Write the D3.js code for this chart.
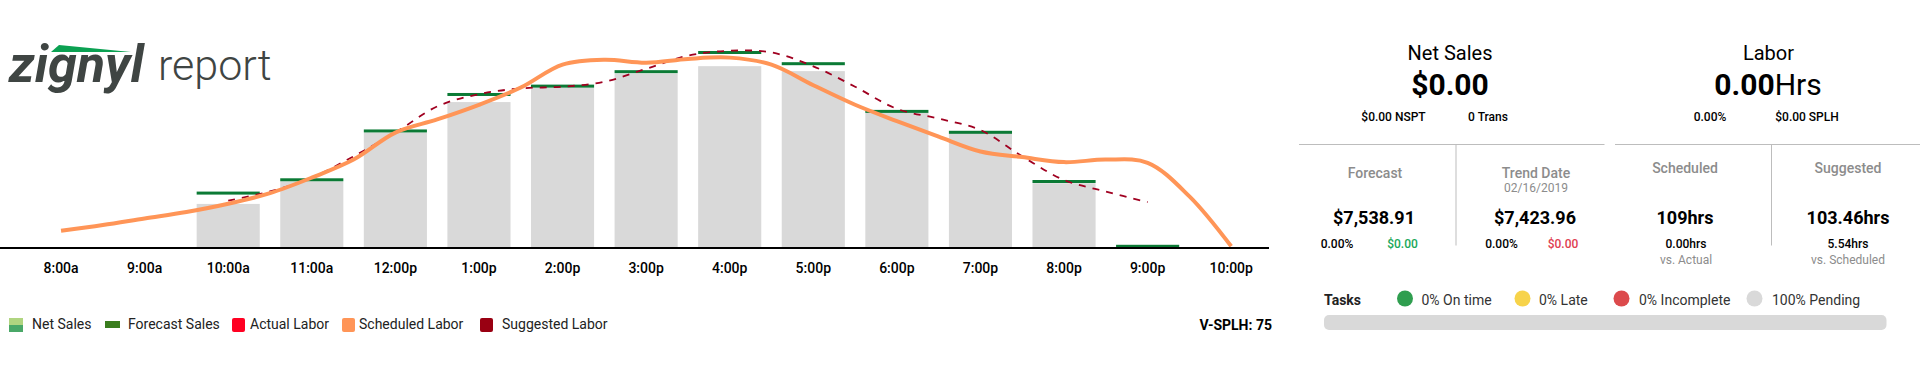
<!DOCTYPE html>
<html>
<head>
<meta charset="utf-8">
<script src="https://d3js.org/d3.v7.min.js"></script>
<style>
  html, body { margin: 0; background: #fff; overflow: hidden; }
  text { font-family: Roboto, sans-serif; }
  .tick text { font-size: 14px; font-weight: 500; fill: #000; }
</style>
</head>
<body>
<svg id="chart" width="1920" height="367"></svg>
<script>
const hourLabels = ['8:00a', '9:00a', '10:00a', '11:00a', '12:00p', '1:00p', '2:00p', '3:00p', '4:00p', '5:00p', '6:00p', '7:00p', '8:00p', '9:00p', '10:00p']

// dollars per hour
const netSalesBars = [null, null, 232, 350, 607, 768, 845, 918, 957, 931, 712, 605, 341, null, null]
const forecastSales = [null, null, 289, 359, 616, 808, 852, 928, 1029, 970, 719, 609, 350, 9, null]

// labor hours, sampled every half hour starting at 8a / 10a
const scheduledLabor = [1.23, 1.64, 2.11, 2.57, 3.16, 3.92, 5.03, 6.32, 8.25, 9.19, 10.24, 11.47, 13.11, 13.46, 13.25, 13.52, 13.61, 13.11, 11.64, 10.24, 9.07, 7.96, 6.9, 6.5, 6.14, 6.32, 6.09, 3.69, 0.12]
const suggestedLabor = [3.39, 4.04, 5.03, 6.55, 8.25, 10.12, 11, 11.41, 11.53, 11.88, 12.81, 13.75, 14.1, 13.98, 12.99, 11.53, 9.95, 9.25, 8.43, 6.55, 4.86, 4.04, 3.28]

const legendItems = ['Net Sales', 'Forecast Sales', 'Actual Labor', 'Scheduled Labor', 'Suggested Labor']
const taskLabels = ['0% On time', '0% Late', '0% Incomplete', '100% Pending']

const $svg = d3.select('#chart')

const baseline = 248
const x = d3.scaleBand()
  .domain(hourLabels)
  .range([19.25, 1273])
  .paddingInner(0.245)
  .paddingOuter(0.1225)
const y = d3.scaleLinear().domain([0, 1200]).range([baseline, 20])
const yLabor = d3.scaleLinear().domain([0, 16.3]).range([baseline, 20])
const xHour = d3.scaleLinear()
  .domain([8, 22])
  .range([x('8:00a') + x.bandwidth() / 2, x('10:00p') + x.bandwidth() / 2])

const rows = hourLabels.map((h, i) => ({ h, net: netSalesBars[i], forecast: forecastSales[i] }))

// bars
$svg.append('g').selectAll('rect')
  .data(rows.filter(d => d.net !== null))
  .enter().append('rect')
  .attr('x', d => x(d.h))
  .attr('y', d => y(d.net))
  .attr('width', x.bandwidth())
  .attr('height', d => baseline - y(d.net))
  .attr('fill', '#d9d9d9')

$svg.append('g').selectAll('rect')
  .data(rows.filter(d => d.forecast !== null))
  .enter().append('rect')
  .attr('x', d => x(d.h))
  .attr('y', d => y(d.forecast) - 1.5)
  .attr('width', x.bandwidth())
  .attr('height', 3)
  .attr('fill', '#0b7a35')

const line = d3.line()
  .x(d => xHour(d.hour))
  .y(d => yLabor(d.hrs))
  .curve(d3.curveCatmullRom.alpha(0.5))

$svg.append('path')
  .datum(suggestedLabor.map((hrs, i) => ({ hour: 10 + i / 2, hrs })))
  .attr('d', line)
  .attr('fill', 'none')
  .attr('stroke', '#a00020')
  .attr('stroke-width', 1.8)
  .attr('stroke-dasharray', '7,7')

$svg.append('path')
  .datum(scheduledLabor.map((hrs, i) => ({ hour: 8 + i / 2, hrs })))
  .attr('d', line)
  .attr('fill', 'none')
  .attr('stroke', '#ff9557')
  .attr('stroke-width', 4)

$svg.append('line')
  .attr('x1', 0).attr('x2', 1269)
  .attr('y1', baseline).attr('y2', baseline)
  .attr('stroke', '#000')
  .attr('stroke-width', 2)

const $axis = $svg.append('g')
  .attr('transform', `translate(0,${baseline})`)
  .call(d3.axisBottom(x).tickSize(0).tickPadding(15))
$axis.select('.domain').remove()
$axis.selectAll('.tick text').attr('font-family', 'Roboto')

function label(xPos, yPos, str, size, weight, fill, anchor) {
  return $svg.append('text')
    .attr('x', xPos)
    .attr('y', yPos)
    .attr('font-size', size)
    .attr('font-weight', weight || 400)
    .attr('fill', fill || '#000')
    .attr('text-anchor', anchor || 'middle')
    .text(str)
}

// logo
label(9, 82, 'zignyl', 52, 700, '#3f4543', 'start').attr('font-style', 'italic')
label(158, 80, 'report', 43, 300, '#3f4543', 'start')
$svg.append('path').attr('d', 'M51,52 L59,45 L131,52 Z').attr('fill', '#0ba152')

// legend
const swatchX = [9, 105, 232, 342, 480]
const textX = [32, 128, 250, 359, 502]
$svg.append('rect').attr('x', swatchX[0]).attr('y', 318).attr('width', 14).attr('height', 7).attr('fill', '#b0d580')
$svg.append('rect').attr('x', swatchX[0]).attr('y', 325).attr('width', 14).attr('height', 7).attr('fill', '#4aa868')
$svg.append('rect').attr('x', swatchX[1]).attr('y', 321).attr('width', 15).attr('height', 7).attr('fill', '#3a7d1e')
const swatchFill = [null, null, '#ff0022', '#ff9557', '#990012']
swatchFill.forEach((c, i) => {
  if (c) $svg.append('rect').attr('x', swatchX[i]).attr('y', 318).attr('width', 13).attr('height', 14).attr('rx', 2).attr('fill', c)
})
legendItems.forEach((t, i) => label(textX[i], 329, t, 14, 400, '#222', 'start'))
label(1272, 330, 'V-SPLH: 75', 14, 700, '#000', 'end')

// summary panel
label(1450, 60, 'Net Sales', 20)
label(1450, 95, '$0.00', 30, 700)
label(1393.5, 121, '$0.00 NSPT', 12, 500)
label(1488, 121, '0 Trans', 12, 500)

label(1768.5, 60, 'Labor', 20)
const $hrs = label(1768, 95, '0.00', 30, 700)
$hrs.append('tspan').attr('font-weight', 400).text('Hrs')
label(1710, 121, '0.00%', 12, 500)
label(1807, 121, '$0.00 SPLH', 12, 500)

const ruleColor = '#bdbdbd'
const rules = [[1299, 144.5, 1604.5, 144.5], [1615, 144.5, 1920, 144.5], [1456, 144.5, 1456, 245.5], [1771.5, 144.5, 1771.5, 245.5]]
rules.forEach(r => {
  $svg.append('line')
    .attr('x1', r[0]).attr('y1', r[1]).attr('x2', r[2]).attr('y2', r[3])
    .attr('stroke', ruleColor).attr('stroke-width', 1)
})

const gray = '#8c8c8c'
label(1375, 178, 'Forecast', 14, 500, gray)
label(1536, 178, 'Trend Date', 14, 500, gray)
label(1536, 192, '02/16/2019', 12, 400, gray)
label(1685, 173, 'Scheduled', 14, 500, gray)
label(1848, 173, 'Suggested', 14, 500, gray)

label(1374, 224, '$7,538.91', 18, 700)
label(1535, 224, '$7,423.96', 18, 700)
label(1685, 224, '109hrs', 18, 700)
label(1848, 224, '103.46hrs', 18, 700)

label(1337, 248, '0.00%', 12, 500)
label(1402.5, 248, '$0.00', 12, 500, '#1aa85a')
label(1501.5, 248, '0.00%', 12, 500)
label(1563, 248, '$0.00', 12, 500, '#e04050')
label(1686, 248, '0.00hrs', 12, 500)
label(1848, 248, '5.54hrs', 12, 500)
label(1686, 264, 'vs. Actual', 12, 400, gray)
label(1848, 264, 'vs. Scheduled', 12, 400, gray)

// tasks
label(1324, 305, 'Tasks', 14, 700, '#222', 'start')
const taskDotX = [1405, 1522.5, 1621.5, 1754.5]
const taskTextX = [1421.5, 1539, 1639, 1772]
const taskFill = ['#2f9e4f', '#f7d34a', '#dc4a4c', '#d9d9d9']
taskLabels.forEach((t, i) => {
  $svg.append('circle').attr('cx', taskDotX[i]).attr('cy', 298.5).attr('r', 8).attr('fill', taskFill[i])
  label(taskTextX[i], 305, t, 14, 400, '#333', 'start')
})
$svg.append('rect')
  .attr('x', 1324).attr('y', 315)
  .attr('width', 562.5).attr('height', 15)
  .attr('rx', 5)
  .attr('fill', '#d9d9d9')
</script>
</body>
</html>
